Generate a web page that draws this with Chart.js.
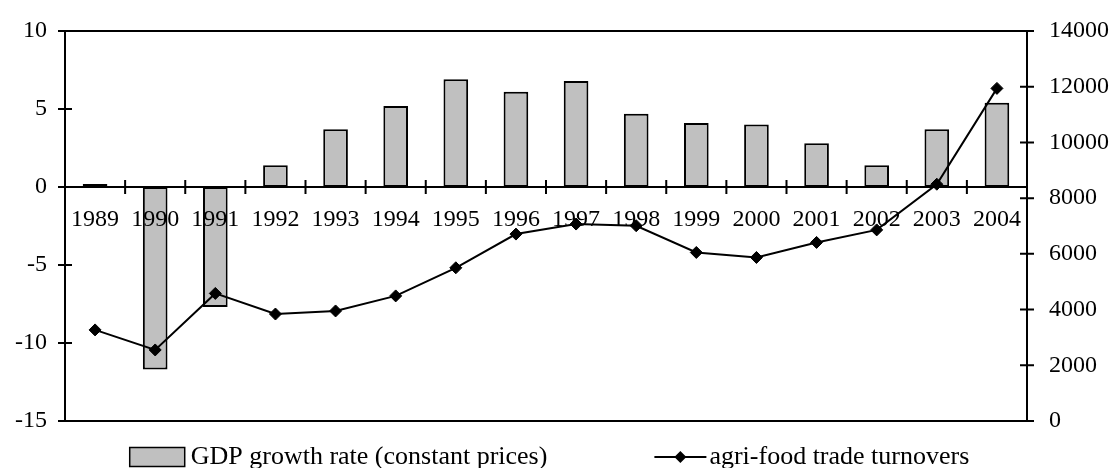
<!DOCTYPE html>
<html>
<head>
<meta charset="utf-8">
<script src="https://cdn.jsdelivr.net/npm/chart.js@4.4.1/dist/chart.umd.min.js"></script>
<style>
  body { margin: 0; background: #fff; }
</style>
</head>
<body>
<canvas id="gdpChart" width="1111" height="468"></canvas>
<script>
const years = ['1989', '1990', '1991', '1992', '1993', '1994', '1995', '1996',
               '1997', '1998', '1999', '2000', '2001', '2002', '2003', '2004'];
const gdpGrowth = [0.2, -11.7, -7.7, 1.4, 3.7, 5.2, 6.9, 6.1, 6.8, 4.7, 4.1, 4.0, 2.8, 1.4, 3.7, 5.4];
const tradeTurnover = [3270, 2550, 4580, 3840, 3950, 4490, 5500, 6710,
                       7070, 7010, 6050, 5870, 6410, 6860, 8500, 11940];
const gdpTicks = [-15, -10, -5, 0, 5, 10];
const tradeTicks = [0, 2000, 4000, 6000, 8000, 10000, 12000, 14000];

const FONT = 'Liberation Serif';
const barGrey = '#c0c0c0';

// axis lines, frame and the crossing tick marks
const axesFrame = {
    id: 'axesFrame',
    beforeDatasetsDraw(chart) {
        const { ctx, chartArea: a, scales } = chart;
        const x = scales.x, y = scales.y, y2 = scales.y2;
        const t = 7;
        ctx.save();
        ctx.strokeStyle = '#000';
        ctx.lineWidth = 2;
        ctx.beginPath();
        // top and bottom border
        ctx.moveTo(a.left - t, a.top); ctx.lineTo(a.right + t, a.top);
        ctx.moveTo(a.left - t, a.bottom); ctx.lineTo(a.right + t, a.bottom);
        // vertical axes
        ctx.moveTo(a.left, a.top); ctx.lineTo(a.left, a.bottom);
        ctx.moveTo(a.right, a.top); ctx.lineTo(a.right, a.bottom);
        gdpTicks.forEach(v => {
            const py = y.getPixelForValue(v);
            ctx.moveTo(a.left - t, py); ctx.lineTo(a.left + t, py);
        });
        tradeTicks.forEach(v => {
            const py = y2.getPixelForValue(v);
            ctx.moveTo(a.right - t, py); ctx.lineTo(a.right + t, py);
        });
        // zero line with category ticks
        const zy = y.getPixelForValue(0);
        ctx.moveTo(a.left, zy); ctx.lineTo(a.right, zy);
        for (let i = 1; i < years.length; i++) {
            const px = (x.getPixelForValue(i - 1) + x.getPixelForValue(i)) / 2;
            ctx.moveTo(px, zy - t); ctx.lineTo(px, zy + t);
        }
        ctx.stroke();
        ctx.restore();
    }
};

// legend drawn under the plot: grey box item and line-with-diamond item
const bottomLegend = {
    id: 'bottomLegend',
    afterDraw(chart) {
        const { ctx } = chart;
        const bars = chart.data.datasets[1];
        const line = chart.data.datasets[0];
        ctx.save();
        ctx.font = '26px "' + FONT + '"';
        ctx.textBaseline = 'middle';
        ctx.fillStyle = '#000';
        const w1 = ctx.measureText(bars.label).width;
        const w2 = ctx.measureText(line.label).width;
        const boxW = 55, boxH = 19, gapText = 6, gapItems = 107, lineLen = 52, lineGap = 3;
        const total = boxW + gapText + w1 + gapItems + lineLen + lineGap + w2;
        let cx = (chart.width - total) / 2 - 6;
        const cy = 457;

        ctx.fillStyle = bars.backgroundColor;
        ctx.fillRect(cx, cy - boxH / 2, boxW, boxH);
        ctx.strokeStyle = '#000';
        ctx.lineWidth = 1.5;
        ctx.strokeRect(cx, cy - boxH / 2, boxW, boxH);
        cx += boxW + gapText;
        ctx.fillStyle = '#000';
        ctx.fillText(bars.label, cx, cy);
        cx += w1 + gapItems;

        ctx.lineWidth = 2;
        ctx.beginPath();
        ctx.moveTo(cx, cy); ctx.lineTo(cx + lineLen, cy);
        ctx.stroke();
        const mx = cx + lineLen / 2, r = 6;
        ctx.beginPath();
        ctx.moveTo(mx, cy - r); ctx.lineTo(mx + r, cy); ctx.lineTo(mx, cy + r); ctx.lineTo(mx - r, cy);
        ctx.closePath();
        ctx.fill();
        cx += lineLen + lineGap;
        ctx.fillText(line.label, cx, cy);
        ctx.restore();
    }
};

// fixed axis widths, and no extra label padding pushing the plot down
function fixAxis(width) {
    return (scale) => {
        scale.width = width;
        scale.paddingTop = 0;
        scale.paddingBottom = 0;
    };
}

const ctx = document.getElementById('gdpChart').getContext('2d');

const chart = new Chart(ctx, {
    data: {
        labels: years,
        datasets: [{
            type: 'line',
            label: 'agri-food trade turnovers',
            data: tradeTurnover,
            yAxisID: 'y2',
            borderColor: '#000',
            borderWidth: 2,
            backgroundColor: '#000',
            pointStyle: 'rectRot',
            pointRadius: 6,
            pointBorderWidth: 1,
            pointBackgroundColor: '#000',
            tension: 0,
            order: 0
        }, {
            type: 'bar',
            label: 'GDP growth rate (constant prices)',
            data: gdpGrowth,
            yAxisID: 'y',
            backgroundColor: barGrey,
            borderColor: '#000',
            borderWidth: 2,
            borderSkipped: false,
            barPercentage: 0.41,
            categoryPercentage: 1,
            order: 1
        }]
    },
    options: {
        responsive: false,
        animation: false,
        layout: { padding: { top: 31, bottom: 47, left: 0, right: 0 } },
        plugins: {
            legend: { display: false },
            tooltip: { enabled: false }
        },
        scales: {
            x: {
                type: 'category',
                position: { y: 0 },
                offset: true,
                grid: { display: false, drawTicks: false },
                border: { display: false },
                ticks: {
                    z: 1,
                    color: '#000',
                    font: { family: FONT, size: 24 },
                    padding: 18,
                    maxRotation: 0,
                    autoSkip: false
                }
            },
            y: {
                position: 'left',
                min: gdpTicks[0],
                max: gdpTicks[gdpTicks.length - 1],
                grid: { display: false, drawTicks: false },
                border: { display: false },
                ticks: {
                    stepSize: 5,
                    color: '#000',
                    font: { family: FONT, size: 24 },
                    padding: 18
                },
                afterFit: fixAxis(65)
            },
            y2: {
                position: 'right',
                min: tradeTicks[0],
                max: tradeTicks[tradeTicks.length - 1],
                grid: { display: false, drawTicks: false },
                border: { display: false },
                ticks: {
                    stepSize: 2000,
                    color: '#000',
                    font: { family: FONT, size: 24 },
                    padding: 22,
                    callback: (v) => String(v)
                },
                afterFit: fixAxis(84)
            }
        }
    },
    plugins: [axesFrame, bottomLegend]
});
</script>
</body>
</html>
